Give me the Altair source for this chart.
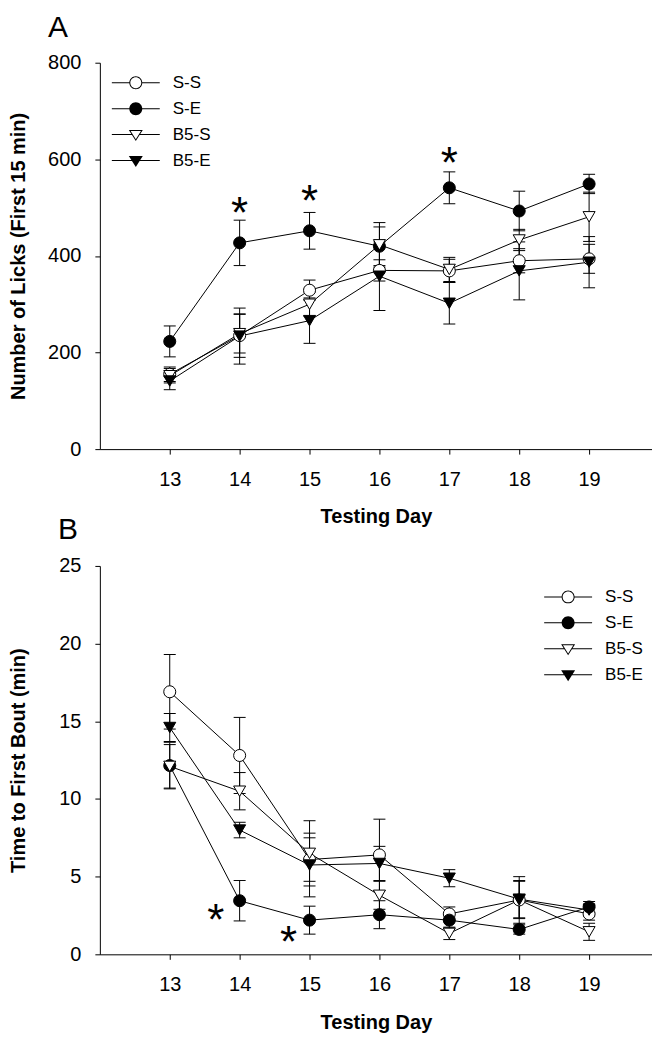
import altair as alt
import pandas as pd

FONT = "Liberation Sans"

days = [13, 14, 15, 16, 17, 18, 19]
groups = ["S-S", "S-E", "B5-S", "B5-E"]

# Panel A: Number of Licks (First 15 min)
licks_ss = [155, 235, 329, 370, 369, 390, 394]
licks_ss_err = [15, 45, 21, 22, 24, 25, 30]
licks_se = [223, 427, 452, 420, 541, 493, 549]
licks_se_err = [32, 47, 38, 40, 33, 41, 20]
licks_b5s = [152, 239, 300, 423, 372, 433, 481]
licks_b5s_err = [15, 40, 25, 46, 25, 22, 51]
licks_b5e = [141, 234, 266, 358, 302, 369, 387]
licks_b5e_err = [18, 58, 47, 71, 43, 60, 53]

# Panel B: Time to First Bout (min)
bout_ss = [16.9, 12.8, 6.1, 6.4, 2.6, 3.5, 2.6]
bout_ss_err = [2.4, 2.45, 1.4, 2.3, 0.45, 1.5, 0.4]
bout_se = [12.15, 3.45, 2.2, 2.55, 2.2, 1.6, 3.05]
bout_se_err = [1.5, 1.3, 0.9, 0.9, 0.5, 0.3, 0.35]
bout_b5s = [12.1, 10.5, 6.5, 3.8, 1.35, 3.5, 1.45]
bout_b5s_err = [1.4, 1.2, 2.1, 0.9, 0.4, 1.2, 0.55]
bout_b5e = [14.6, 8.0, 5.75, 5.85, 4.9, 3.55, 2.85]
bout_b5e_err = [0.9, 0.5, 2.05, 1.1, 0.55, 1.2, 0.4]

# significance markers
licks_star_day = [14, 15, 17]
licks_star_val = [530, 556, 634]
bout_star_day = [13.66, 14.7]
bout_star_val = [3.5, 2.1]

marker_shapes = ["circle", "circle", "triangle-down", "triangle-down"]
marker_fills = ["white", "black", "white", "black"]

# legend glyphs (line through marker), drawn as filled outlines
_circ_lines = "M-2.4,-0.05L-0.6,-0.05L-0.6,0.05L-2.4,0.05ZM0.6,-0.05L2.4,-0.05L2.4,0.05L0.6,0.05Z"
_tri_lines = "M-2.4,-0.05L-0.38,-0.05L-0.38,0.05L-2.4,0.05ZM0.38,-0.05L2.4,-0.05L2.4,0.05L0.38,0.05Z"
_disc = "M0.65,0A0.65,0.65,0,1,1,-0.65,0A0.65,0.65,0,1,1,0.65,0Z"
_hole = "M0.55,0A0.55,0.55,0,1,0,-0.55,0A0.55,0.55,0,1,0,0.55,0Z"
_tri = "M-0.7,-0.45L0.7,-0.45L0,0.65Z"
_tri_hole = "M-0.518,-0.35L0,0.464L0.518,-0.35Z"
legend_paths = [
    _circ_lines + _disc + _hole,
    _circ_lines + _disc,
    _tri_lines + _tri + _tri_hole,
    _tri_lines + _tri,
]


def make_df(series, errs):
    rows = []
    for g, vals, es in zip(groups, series, errs):
        for d, v, e in zip(days, vals, es):
            rows.append({"day": d, "value": v, "lo": v - e, "hi": v + e, "group": g})
    return pd.DataFrame(rows)


licks_df = make_df([licks_ss, licks_se, licks_b5s, licks_b5e],
                   [licks_ss_err, licks_se_err, licks_b5s_err, licks_b5e_err])
bout_df = make_df([bout_ss, bout_se, bout_b5s, bout_b5e],
                  [bout_ss_err, bout_se_err, bout_b5s_err, bout_b5e_err])
licks_stars = pd.DataFrame({"day": licks_star_day, "value": licks_star_val})
bout_stars = pd.DataFrame({"day": bout_star_day, "value": bout_star_val})
legend_df = pd.DataFrame({"day": pd.Series([], dtype=float),
                          "value": pd.Series([], dtype=float),
                          "group": pd.Series([], dtype=str)})


def panel(df, stars, ydomain, yticks, ytitle, letter, leg_x, leg_y, title_dx, title_offset, ytp, h):
    xs = alt.Scale(domain=[12, 19.9], nice=False, zero=False)
    xax = alt.Axis(values=days, title="Testing Day", format="d")
    ys = alt.Scale(domain=ydomain, nice=False, zero=False)
    yax = alt.Axis(values=yticks, title=ytitle, titlePadding=ytp)

    def X():
        return alt.X("day:Q", scale=xs, axis=xax)

    def Y(field):
        return alt.Y(f"{field}:Q", scale=ys, axis=yax)

    base = alt.Chart(df)
    layers = [
        base.mark_rule(color="black", strokeWidth=1).encode(x=X(), y=Y("lo"), y2="hi:Q"),
        base.mark_tick(orient="horizontal", color="black", thickness=1, size=12, opacity=1).encode(x=X(), y=Y("lo")),
        base.mark_tick(orient="horizontal", color="black", thickness=1, size=12, opacity=1).encode(x=X(), y=Y("hi")),
        base.mark_line(color="black", strokeWidth=1).encode(x=X(), y=Y("value"), detail="group:N"),
    ]
    for g, shp, fil in zip(groups, marker_shapes, marker_fills):
        layers.append(
            base.transform_filter(alt.datum.group == g).mark_point(
                shape=shp, filled=True, fill=fil, stroke="black", strokeWidth=1, size=145, opacity=1
            ).encode(x=X(), y=Y("value"))
        )
    leg = alt.Legend(title=None, orient="none", legendX=leg_x, legendY=leg_y,
                     symbolSize=400, symbolStrokeWidth=0, symbolFillColor="black",
                     labelFont=FONT, labelFontSize=17, labelColor="black",
                     rowPadding=8, labelOffset=27, padding=0)
    layers.append(
        alt.Chart(legend_df).mark_point(filled=True, color="black", size=400, opacity=1).encode(
            x=X(), y=Y("value"),
            shape=alt.Shape("group:N", scale=alt.Scale(domain=groups, range=legend_paths), legend=leg),
        )
    )
    layers.append(
        alt.Chart(stars).mark_text(text="*", fontSize=44, baseline="top", font=FONT, color="black").encode(
            x=X(), y=Y("value"))
    )
    return alt.layer(*layers).properties(
        width=553, height=h,
        title=alt.TitleParams(letter, anchor="start", frame="group", dx=title_dx, offset=title_offset,
                              fontSize=30, fontWeight="normal", font=FONT, color="black"),
    )


panel_a = panel(licks_df, licks_stars, [0, 800], [0, 200, 400, 600, 800],
                "Number of Licks (First 15 min)", "A", 26, 10, -52, 10, 19, 387)
panel_b = panel(bout_df, bout_stars, [0, 25], [0, 5, 10, 15, 20, 25],
                "Time to First Bout (min)", "B", 459, 21, -42, 11, 30, 389)

chart = alt.vconcat(panel_a, panel_b, spacing=117, bounds="flush").resolve_scale(
    shape="independent"
).resolve_legend(
    shape="independent"
).properties(
    padding={"top": 4, "left": 0, "right": 0, "bottom": 0}
).configure_view(stroke=None).configure_axis(
    grid=False, domainColor="black", tickColor="black", labelColor="black", titleColor="black",
    labelFont=FONT, titleFont=FONT, labelFontSize=20, titleFontSize=20, titleFontWeight="bold",
    tickSize=5, labelPadding=14, domainWidth=1, tickWidth=1,
).configure_axisX(titlePadding=18, labelPadding=15)

chart.save("out.html", embed_options={"renderer": "svg", "actions": False})
